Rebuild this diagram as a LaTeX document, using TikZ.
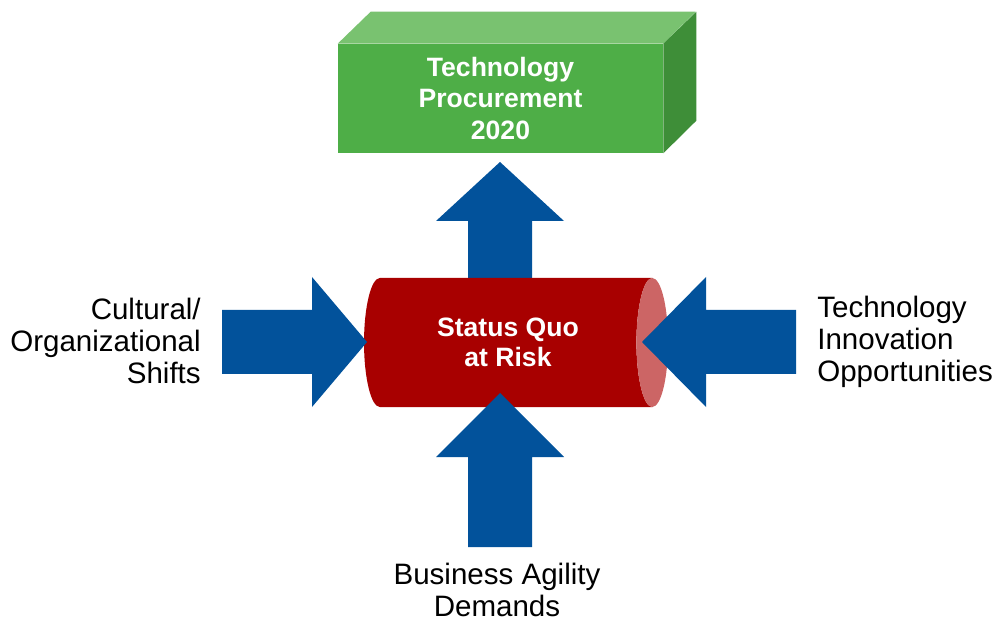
\documentclass[tikz,border=0pt]{standalone}
\usepackage{fontspec}
\setmainfont{Liberation Sans}
\usetikzlibrary{shapes.geometric}

\definecolor{flowblue}{RGB}{2,82,155}
\definecolor{boxfront}{RGB}{78,174,71}
\definecolor{boxtop}{RGB}{121,194,112}
\definecolor{boxside}{RGB}{62,142,56}
\definecolor{riskred}{RGB}{168,0,0}
\definecolor{riskend}{RGB}{204,101,101}

\tikzset{
  flow/.style={fill=flowblue},
  label/.style={font=\fontsize{21}{22.5}\selectfont, inner sep=0pt},
  boxtext/.style={text=white, font=\bfseries\fontsize{18.9}{22.3}\selectfont, align=center},
}

\begin{document}
\begin{tikzpicture}[x=0.025cm, y=-0.025cm]
\useasboundingbox (0,0) rectangle (992,622);

% target block, front face plus top and side
\node[fill=boxfront, minimum width=8.125cm, minimum height=2.725cm, inner sep=0pt,
  boxtext] (target) at (500.5,98.5) {Technology\\Procurement\\2020};
\fill[boxtop] (target.north west) -- ++(33,-32) -- ++(325,0) -- (target.north east) -- cycle;
\fill[boxside] (target.north east) -- ++(33,-32) -- ++(0,109) -- (target.south east) -- cycle;

% arrow out of the cylinder, up to the block
\fill[flow] (468,300) -- (468,221) -- (436,221) -- (500,162) -- (564,221) -- (532,221) -- (532,300) -- cycle;

% the cylinder (height runs along its axis)
\node[cylinder, cylinder uses custom fill, cylinder body fill=riskred, cylinder end fill=riskend,
  shape aspect=0.65, minimum height=7.6cm, minimum width=3.225cm, inner sep=0pt,
  boxtext, font=\bfseries\fontsize{18.9}{21.3}\selectfont] (risk) at (508,342.5) {Status Quo\\at Risk};

% arrows pushing on the cylinder
\fill[flow] (222,310) -- (312,310) -- (312,277) -- (367,342) -- (312,407) -- (312,374) -- (222,374) -- cycle;
\fill[flow] (796,310) -- (706,310) -- (706,277) -- (642,342) -- (706,407) -- (706,374) -- (796,374) -- cycle;
\fill[flow] (468,547) -- (468,457) -- (436,457) -- (500,393) -- (564,457) -- (532,457) -- (532,547) -- cycle;

% labels
\node[label, align=right, anchor=east] (culture) at (201,341) {Cultural/\\Organizational\\Shifts};
\node[label, align=left, anchor=west] (innov) at (817,342) {Technology\\Innovation\\Opportunities};
\node[label, align=center] (agility) at (497,590) {Business Agility\\Demands};
\end{tikzpicture}
\end{document}
